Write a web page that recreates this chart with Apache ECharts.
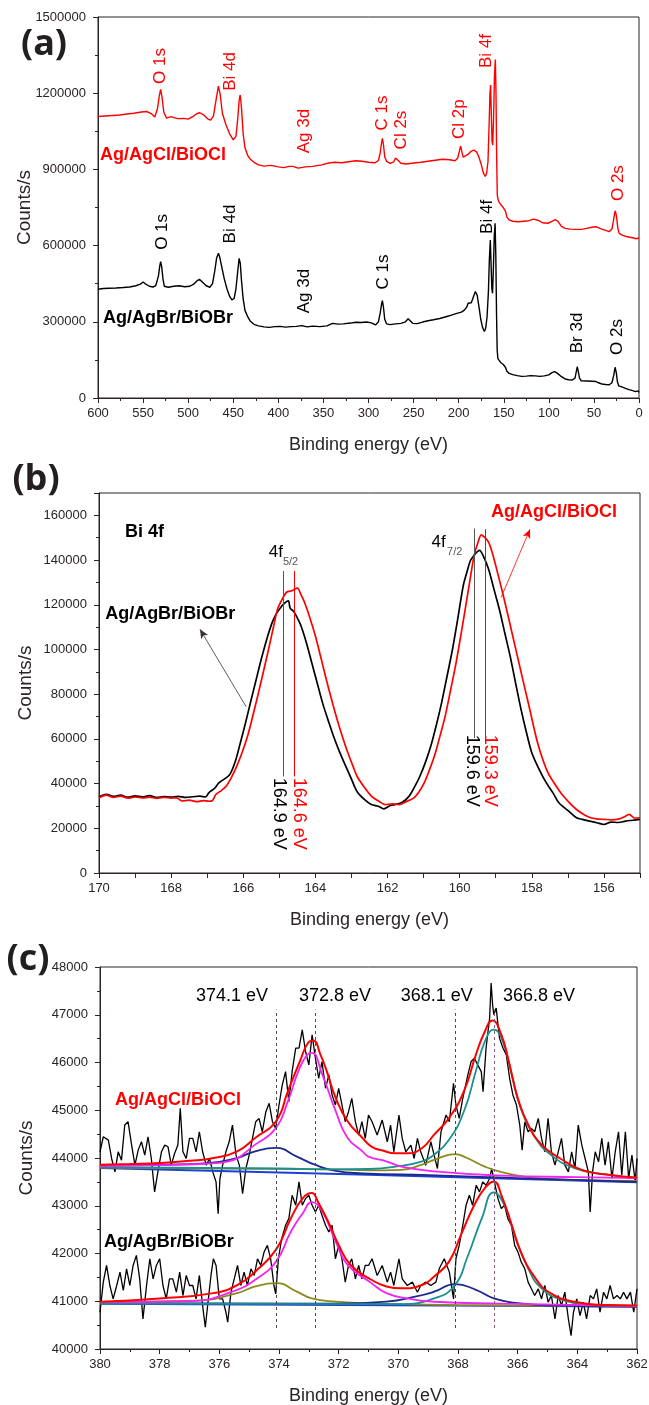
<!DOCTYPE html>
<html><head><meta charset="utf-8">
<script src="https://cdn.jsdelivr.net/npm/echarts@6/dist/echarts.min.js"></script>
<style>html,body{margin:0;padding:0;background:#fff}#c{width:649px;height:1405px}</style>
</head><body><div id="c"></div>
<script>
// ---------------- DATA ----------------
// (a) survey spectra [binding energy eV, counts/s]
const aAgCl = [[600,1108000],[592,1110000],[584,1112000],[576,1114000],[568,1118000],[560,1121000],[552,1126000],[546,1128000],[541,1120000],[537,1106000],[534,1140000],[532,1190000],[530.5,1215000],[529,1185000],[527,1125000],[524,1102000],[519,1108000],[512,1100000],[505,1101000],[500,1098000],[495,1108000],[490,1120000],[487,1123000],[483,1115000],[478,1098000],[475,1094000],[472,1110000],[469,1175000],[466.5,1228000],[464.5,1195000],[462,1120000],[458,1075000],[454,1040000],[450,1016000],[447,1030000],[445,1100000],[443.5,1170000],[442.3,1193000],[441,1150000],[439,1040000],[437,985000],[434,955000],[431,940000],[427,928000],[422,918000],[416,913000],[408,916000],[400,910000],[394,907000],[388,912000],[386,917000],[384,912000],[378,905000],[370,910000],[362,912000],[352,918000],[344,925000],[338,928000],[330,926000],[322,930000],[314,934000],[307,932000],[300,928000],[293,926000],[289,935000],[287,965000],[285.5,1005000],[284.6,1022000],[283.5,1000000],[282,950000],[280,932000],[276,924000],[272,930000],[270,945000],[268.7,950000],[267,935000],[264,924000],[258,921000],[250,925000],[242,928000],[234,932000],[226,936000],[218,940000],[210,938000],[204,934000],[201,945000],[199,975000],[197.8,992000],[196.5,970000],[195,948000],[193,945000],[190,958000],[186,972000],[183,976000],[180,968000],[177.5,948000],[175,920000],[172.5,885000],[170.5,872000],[169,885000],[167.5,930000],[166.2,1080000],[165.3,1200000],[164.6,1232000],[163.8,1120000],[163,1010000],[162.2,996000],[161.3,1100000],[160.3,1270000],[159.3,1333000],[158.6,1200000],[157.9,960000],[157.2,800000],[156.2,780000],[155,770000],[153,760000],[151,752000],[149.5,748000],[148,735000],[146.5,712000],[144,701000],[140,696000],[134,694000],[128,696000],[122,698000],[117,704000],[112,700000],[107,690000],[101,688000],[96,696000],[93,702000],[90,696000],[86,676000],[82,668000],[76,665000],[70,664000],[64,664000],[58,668000],[52,672000],[47,674000],[42,666000],[37,660000],[33,655000],[30,665000],[28.5,695000],[27,728000],[26.2,737000],[25,715000],[23.5,670000],[22,648000],[18,640000],[14,636000],[10,633000],[6,630000],[3,627000],[1.5,634000],[0,630000]];
const aAgBr = [[600,428000],[594,431000],[588,432000],[580,433000],[572,435000],[565,437000],[558,442000],[553,448000],[550,457000],[547,448000],[543,440000],[539,437000],[536,442000],[533,480000],[531.5,520000],[530.5,537000],[529.3,515000],[528,470000],[526.5,440000],[522,436000],[516,440000],[510,442000],[504,438000],[498,440000],[494,448000],[490,462000],[487.5,467000],[484,456000],[480,442000],[476,436000],[473,450000],[470.5,500000],[468.5,550000],[466.5,570000],[465,555000],[463,520000],[460,470000],[457,430000],[454,400000],[451.5,386000],[449,392000],[447,430000],[445,500000],[443.5,550000],[442.2,530000],[440.8,460000],[439,390000],[437,345000],[434,320000],[431,302000],[427,290000],[422,284000],[416,280000],[410,278000],[404,281000],[398,282000],[392,279000],[386,281000],[380,282000],[374,285000],[372,282000],[368,280000],[362,283000],[354,281000],[346,284000],[340,294000],[334,291000],[328,292000],[320,295000],[314,298000],[308,297000],[302,299000],[297,296000],[292,288000],[289,300000],[287,335000],[285.5,370000],[284.6,383000],[283.5,360000],[282,310000],[280,292000],[276,289000],[270,292000],[264,294000],[259,300000],[256,312000],[254,305000],[251,294000],[246,293000],[240,299000],[234,304000],[228,308000],[221,313000],[214,320000],[208,326000],[202,333000],[197,338000],[194,345000],[191,358000],[189.5,373000],[188,368000],[186,375000],[183.5,400000],[181.5,419000],[179.5,405000],[177.5,360000],[175.5,310000],[173.5,278000],[171.5,262000],[170,275000],[168.5,320000],[167,420000],[166,540000],[164.9,622000],[164,520000],[163.2,430000],[162.4,412000],[161.5,510000],[160.5,640000],[159.6,688000],[158.8,560000],[158,330000],[157.3,190000],[156.5,155000],[155,150000],[153.5,140000],[152,137000],[150.5,132000],[149.5,134000],[148,120000],[146.5,105000],[144,97000],[140,92000],[135,88000],[130,85000],[125,86000],[120,88000],[115,87000],[110,85000],[105,87000],[100,91000],[96.5,100000],[93.5,104000],[90,96000],[86,84000],[82,75000],[78,72000],[74,71000],[71,78000],[69.2,110000],[68.5,123000],[67.5,108000],[66,78000],[64,68000],[58,67000],[52,66000],[48,65000],[45,60000],[41,55000],[37,53000],[33,52000],[30,60000],[28,90000],[26.5,121000],[25.2,100000],[24,65000],[22.5,48000],[19,44000],[15,38000],[11,33000],[7,29000],[4,25000],[2,31000],[1,28000],[0,22000]];

// (b) Bi 4f spectra
const bAgBr = [[170,34000],[169.8,35200],[169.6,34300],[169.4,34800],[169.2,33900],[169,34500],[168.8,34100],[168.6,34600],[168.4,33800],[168.2,34200],[168,33900],[167.8,34300],[167.6,33800],[167.4,34100],[167.2,34400],[167.05,34000],[166.95,36000],[166.8,37800],[166.67,40400],[166.5,42300],[166.37,44100],[166.22,50000],[166.08,58300],[165.94,67000],[165.8,76250],[165.65,86000],[165.5,95700],[165.35,104500],[165.2,112000],[165.1,115500],[165.0,118000],[164.87,120500],[164.75,121800],[164.7,118500],[164.6,117000],[164.5,114000],[164.4,110600],[164.25,103000],[164.1,94000],[163.95,85000],[163.8,76000],[163.65,68500],[163.5,61300],[163.35,55000],[163.2,49300],[163.0,42000],[162.85,36600],[162.65,33000],[162.45,30600],[162.25,29800],[162.1,28700],[161.95,30000],[161.8,30600],[161.6,31500],[161.4,34400],[161.25,38500],[161.1,43400],[160.95,49500],[160.8,56800],[160.65,66000],[160.5,76250],[160.35,88000],[160.2,100000],[160.05,114000],[159.9,128600],[159.8,134500],[159.7,139800],[159.58,142500],[159.45,144300],[159.35,142000],[159.2,136000],[159.05,127000],[158.9,118000],[158.75,107500],[158.6,97000],[158.45,85000],[158.3,73300],[158.15,63000],[158.0,53800],[157.8,46500],[157.6,40400],[157.4,35500],[157.25,31400],[157.0,28000],[156.76,24700],[156.6,24000],[156.4,23200],[156.2,22500],[156.0,21700],[155.8,22800],[155.6,22600],[155.4,23200],[155.2,23600],[155.0,24000]];
const bAgCl = [[170,33600],[169.8,34800],[169.6,33800],[169.4,34400],[169.2,33500],[169,34000],[168.8,33600],[168.6,33900],[168.4,33400],[168.2,33800],[168,33500],[167.85,33600],[167.7,32200],[167.5,32600],[167.3,31900],[167.1,32400],[166.95,32100],[166.86,32300],[166.76,35100],[166.6,37000],[166.47,38900],[166.32,43000],[166.18,47800],[166.03,54000],[165.88,61300],[165.74,70000],[165.6,79200],[165.45,89500],[165.3,100000],[165.17,109500],[165.05,118000],[164.92,122500],[164.8,125600],[164.65,126300],[164.5,127400],[164.4,124500],[164.3,121000],[164.15,114000],[164.0,106000],[163.85,96500],[163.7,86700],[163.55,77500],[163.4,68800],[163.25,61000],[163.1,53800],[162.95,47500],[162.85,43400],[162.65,38500],[162.45,34400],[162.25,32200],[162.06,30600],[161.86,30900],[161.67,30600],[161.47,32000],[161.27,33600],[161.12,36500],[160.98,40400],[160.84,46000],[160.7,52300],[160.55,61000],[160.4,70300],[160.25,82000],[160.1,94000],[159.95,108000],[159.8,122600],[159.7,132500],[159.6,142000],[159.5,147500],[159.4,151300],[159.3,150000],[159.2,148000],[159.1,143500],[159.0,137500],[158.85,128000],[158.7,118000],[158.55,107500],[158.4,97000],[158.25,86500],[158.1,76250],[157.97,67000],[157.84,58300],[157.7,51000],[157.55,44800],[157.35,39500],[157.16,35100],[156.96,31500],[156.76,28400],[156.56,26200],[156.37,24700],[156.2,24200],[156.0,24000],[155.8,23800],[155.6,24100],[155.45,25000],[155.3,26200],[155.15,24600],[155.0,24700]];

// (c) Ag 3d raw spectra
const cAgClRaw = [[380.00,44130],[379.89,44445],[379.72,44375],[379.61,43990],[379.50,43710],[379.39,44130],[379.28,43955],[379.17,44690],[379.06,44760],[378.94,44270],[378.83,43850],[378.72,44165],[378.61,44340],[378.50,44060],[378.39,44445],[378.28,43990],[378.17,43290],[378.06,43710],[377.94,44130],[377.83,44270],[377.72,44235],[377.61,43850],[377.50,44095],[377.39,44270],[377.31,45040],[377.22,44130],[377.11,43990],[377.00,44410],[376.89,44410],[376.78,44130],[376.67,44550],[376.56,44130],[376.44,43850],[376.33,43990],[376.22,43710],[376.11,43500],[376.04,42835],[375.98,43570],[375.89,43850],[375.78,44130],[375.67,44340],[375.56,44690],[375.44,44060],[375.33,43850],[375.22,43255],[375.11,43780],[375.00,44060],[374.89,44410],[374.78,44760],[374.67,44830],[374.56,44550],[374.44,44970],[374.33,45145],[374.22,44760],[374.11,44620],[374.00,45110],[373.89,45530],[373.78,45810],[373.67,45180],[373.56,45810],[373.44,46300],[373.33,46300],[373.22,46685],[373.11,46230],[373.00,45950],[372.89,46580],[372.78,46090],[372.67,45670],[372.56,46020],[372.44,45460],[372.33,45740],[372.22,45320],[372.11,45110],[372.00,45460],[371.89,45110],[371.78,44760],[371.67,44970],[371.56,45250],[371.44,44760],[371.33,44480],[371.22,44760],[371.11,44410],[371.00,44900],[370.88,44760],[370.71,44480],[370.54,44795],[370.37,44340],[370.26,44690],[370.15,44130],[369.98,44900],[369.87,44410],[369.75,44130],[369.58,44270],[369.47,43990],[369.36,44410],[369.25,44130],[369.08,43850],[368.91,44340],[368.80,44060],[368.69,43780],[368.57,44550],[368.40,44900],[368.29,44760],[368.15,45565],[368.07,45110],[367.96,44830],[367.84,45250],[367.67,45740],[367.56,46020],[367.45,46090],[367.34,45950],[367.22,45810],[367.16,45390],[367.06,46300],[366.94,46930],[366.89,47665],[366.84,47210],[366.80,47000],[366.72,47140],[366.61,46510],[366.49,46300],[366.38,46160],[366.27,45670],[366.16,45320],[366.04,45110],[365.93,44690],[365.85,44165],[365.76,44760],[365.65,44550],[365.54,44620],[365.43,44550],[365.31,44830],[365.20,44410],[365.09,44130],[364.98,44830],[364.87,44130],[364.75,43850],[364.64,44130],[364.53,44410],[364.42,43850],[364.30,43710],[364.19,44130],[364.08,43780],[363.97,44690],[363.85,44270],[363.74,43990],[363.63,43710],[363.57,42870],[363.49,43710],[363.40,44130],[363.29,43920],[363.18,44410],[363.07,43850],[362.96,44340],[362.84,43570],[362.73,44130],[362.62,44550],[362.51,43640],[362.39,44550],[362.28,43570],[362.17,44060],[362.06,43500],[362.00,43990]];
const cAgBrRaw = [[380.00,40770],[379.89,41400],[379.78,41750],[379.67,41330],[379.56,41050],[379.44,41330],[379.33,41610],[379.22,41225],[379.11,41680],[379.00,41330],[378.89,41750],[378.78,41960],[378.67,41470],[378.56,40630],[378.44,41330],[378.33,41890],[378.22,41470],[378.11,41750],[378.00,41890],[377.89,41330],[377.78,41050],[377.67,41470],[377.56,41470],[377.44,41190],[377.33,41610],[377.22,41120],[377.11,41540],[377.00,41330],[376.89,41330],[376.78,41050],[376.67,41540],[376.56,40910],[376.47,40455],[376.38,40980],[376.28,41540],[376.20,41890],[376.11,41750],[376.00,41050],[375.89,41050],[375.78,40770],[375.72,40560],[375.61,41190],[375.50,41470],[375.39,41750],[375.28,41330],[375.17,41610],[375.06,41330],[374.94,41680],[374.83,41540],[374.72,41890],[374.61,41750],[374.50,42030],[374.39,42170],[374.28,41890],[374.17,41330],[374.11,41155],[374.02,41890],[373.91,42310],[373.78,42590],[373.67,42730],[373.56,43220],[373.44,43010],[373.33,43500],[373.22,43010],[373.11,43150],[373.00,43220],[372.89,43010],[372.78,42870],[372.67,43010],[372.56,42800],[372.44,42590],[372.33,42450],[372.22,42590],[372.11,41890],[372.00,42170],[371.89,41890],[371.78,41400],[371.67,41750],[371.56,41890],[371.44,41470],[371.33,41750],[371.22,41470],[371.11,41750],[371.00,41750],[370.88,41890],[370.71,41540],[370.54,41750],[370.37,41400],[370.26,41610],[370.15,41330],[369.98,41890],[369.87,41470],[369.70,41330],[369.53,41400],[369.36,41190],[369.25,41330],[369.08,41400],[368.91,41330],[368.74,41400],[368.63,41680],[368.46,41890],[368.29,41610],[368.15,41050],[368.07,41890],[367.96,42170],[367.84,42590],[367.73,43010],[367.62,43220],[367.51,43010],[367.39,43430],[367.28,43290],[367.17,43500],[367.06,43430],[366.94,43570],[366.87,43780],[366.78,43500],[366.66,43150],[366.55,42940],[366.44,43010],[366.33,42730],[366.21,42590],[366.10,42170],[365.99,42030],[365.88,41820],[365.76,41680],[365.65,41400],[365.54,41260],[365.43,41120],[365.31,41260],[365.20,41050],[365.09,41330],[364.98,40980],[364.87,41120],[364.75,40630],[364.64,41120],[364.53,40910],[364.42,41190],[364.30,40630],[364.21,40280],[364.13,40770],[364.02,41050],[363.91,40700],[363.80,40980],[363.69,40630],[363.57,41120],[363.46,41050],[363.35,41260],[363.24,40770],[363.12,41190],[363.01,41050],[362.90,41330],[362.79,41050],[362.67,41120],[362.56,41050],[362.45,41190],[362.34,41050],[362.22,41190],[362.11,40770],[362.00,41260]];

// (c) fitted curves
const cAgClEnvelope = [[380,43860],[379,43875],[378,43895],[377,43940],[376.2,44000],[375.4,44140],[374.8,44420],[374.1,44770],[373.7,45400],[373.3,46025],[373.0,46430],[372.85,46460],[372.6,46150],[372.4,45820],[372.1,45260],[371.7,44770],[371.2,44420],[370.9,44240],[370.5,44150],[370.1,44100],[369.7,44100],[369.2,44210],[368.8,44490],[368.3,44840],[367.8,45400],[367.4,46165],[367.1,46650],[366.85,46880],[366.55,46585],[366.3,46025],[366.0,45260],[365.65,44700],[365.2,44280],[364.6,44000],[363.85,43750],[362.95,43650],[362,43590]];
const cAgClAg3d32 = [[380,43830],[378,43850],[376.5,43880],[375.7,43930],[374.8,44280],[374.1,44630],[373.7,45190],[373.35,45820],[373.05,46165],[372.9,46200],[372.55,45750],[372.1,44980],[371.7,44420],[371.2,44140],[371.0,44030],[370.4,43930],[369.9,43820],[368.8,43720],[366.5,43630],[364,43600],[362,43580]];
const cAgClAg3d52 = [[380,43810],[374,43780],[372,43760],[371,43770],[370.1,43820],[369.2,43930],[368.8,44070],[368.3,44380],[367.8,44980],[367.4,45820],[367.1,46440],[366.8,46690],[366.5,46440],[366.2,45750],[365.9,45050],[365.4,44420],[364.9,44070],[364.1,43790],[363,43650],[362,43580]];
const cAgClAg0_32 = [[380,43840],[377,43870],[376,43920],[375.4,44000],[374.8,44140],[374.1,44210],[373.4,44030],[372.8,43860],[372.1,43730],[371.2,43680],[369,43640],[366,43580],[362,43500]];
const cAgClAg0_52 = [[380,43800],[376,43780],[372,43760],[370.5,43740],[369.9,43750],[369.2,43860],[368.8,43960],[368.1,44080],[367.7,44000],[367.1,43820],[366.5,43700],[365.4,43580],[364,43540],[362,43520]];
const cAgClBase = [[380,43790],[371,43650],[362,43490]];
const cAgBrEnvelope = [[380,40990],[378,41060],[376.2,41170],[375.4,41340],[374.8,41620],[374.1,42080],[373.6,42740],[373.2,43160],[372.9,43265],[372.7,43090],[372.3,42600],[372.0,42180],[371.6,41760],[370.9,41450],[370.4,41310],[369.9,41270],[369.2,41340],[368.8,41520],[368.3,41830],[367.9,42390],[367.45,43020],[367.1,43370],[366.8,43510],[366.55,43230],[366.2,42600],[365.9,42040],[365.4,41480],[364.9,41170],[364.1,40990],[363,40920],[362,40910]];
const cAgBrAg3d32 = [[380,40980],[377,41000],[375.4,41240],[374.8,41450],[374.1,41830],[373.6,42460],[373.2,42845],[372.9,43075],[372.55,42880],[372.1,42250],[371.7,41760],[370.9,41380],[370.4,41170],[369.7,41060],[368.8,40990],[366.5,40950],[362,40900]];
const cAgBrAg3d52 = [[380,40950],[370,40940],[368.8,41060],[368.1,41340],[367.7,41900],[367.2,42740],[366.8,43280],[366.45,43020],[366.1,42390],[365.65,41690],[365.2,41270],[364.5,41030],[363.4,40920],[362,40900]];
const cAgBrAg0_32 = [[380,40980],[376.8,41010],[375.4,41170],[374.8,41310],[374.1,41380],[373.4,41200],[372.9,41060],[372.1,40990],[371.2,40960],[368,40920],[362,40890]];
const cAgBrAg0_52 = [[380,40960],[372,40950],[370.4,40990],[369.4,41100],[368.8,41200],[368.1,41360],[367.4,41240],[366.8,41060],[366.0,40960],[364.9,40910],[362,40890]];
const cAgBrBase = [[380,40950],[362,40890]];

// peak positions (eV)
const bPeaksAgBr = [164.9, 159.6];
const bPeaksAgCl = [164.6, 159.3];
const cPeaks = [374.1, 372.8, 368.1, 366.8];

// ---------------- CHART ----------------
const AX = '#2b2326';
const FONT = '"Liberation Sans", Arial, sans-serif';
const chart = echarts.init(document.getElementById('c'), null, {renderer: 'canvas'});
const plain = function (v) { return String(Math.round(v)); };

function xAx(grid, min, max, interval, extra) {
  return Object.assign({
    type: 'value', gridIndex: grid, min: min, max: max, interval: interval, inverse: true, position: 'bottom',
    name: 'Binding energy (eV)', nameLocation: 'middle', nameGap: 38, nameMoveOverlap: false,
    nameTextStyle: {fontSize: 18, color: AX, fontFamily: FONT},
    axisLine: {show: true, onZero: false, lineStyle: {color: AX, width: 1}},
    axisTick: {show: true, inside: false, length: 5, lineStyle: {color: AX}},
    minorTick: {show: true, splitNumber: 2, length: 3, lineStyle: {color: AX}},
    splitLine: {show: false}, minorSplitLine: {show: false},
    axisLabel: {color: AX, fontSize: 13, fontFamily: FONT, margin: 9, formatter: plain}
  }, extra || {});
}
function yAx(grid, min, max, interval, extra) {
  return Object.assign({
    type: 'value', gridIndex: grid, min: min, max: max, interval: interval,
    name: 'Counts/s', nameLocation: 'middle', nameGap: 64, nameMoveOverlap: false,
    nameTextStyle: {fontSize: 19, color: AX, fontFamily: FONT},
    axisLine: {show: true, onZero: false, lineStyle: {color: AX, width: 1}},
    axisTick: {show: true, inside: false, length: 5, lineStyle: {color: AX}},
    minorTick: {show: true, splitNumber: 2, length: 3, lineStyle: {color: AX}},
    splitLine: {show: false}, minorSplitLine: {show: false},
    axisLabel: {color: AX, fontSize: 13, fontFamily: FONT, margin: 12, formatter: plain}
  }, extra || {});
}
function line(xi, data, color, width, smooth, extra) {
  return Object.assign({
    type: 'line', xAxisIndex: xi, yAxisIndex: xi, data: data, symbol: 'none', showSymbol: false,
    smooth: smooth, lineStyle: {color: color, width: width}, silent: true, animation: false, z: 3
  }, extra || {});
}
function vseg(e, v0, v1, color, dashed) {
  return [{coord: [e, v0], symbol: 'none', lineStyle: {color: color, width: 1, type: dashed ? [3, 3] : 'solid'}},
          {coord: [e, v1], symbol: 'none'}];
}

const gridStyle = {show: true, borderColor: AX, borderWidth: 1, backgroundColor: 'transparent', containLabel: false, outerBoundsMode: 'none'};

const option = {
  animation: false,
  backgroundColor: '#fff',
  grid: [
    Object.assign({left: 98, top: 17, width: 541, height: 381}, gridStyle),
    Object.assign({left: 99, top: 493, width: 541, height: 380}, gridStyle),
    Object.assign({left: 100, top: 967, width: 537, height: 382}, gridStyle)
  ],
  xAxis: [
    xAx(0, 0, 600, 50),
    xAx(1, 155, 170, 1, {minorTick: {show: false}, axisLabel: {color: AX, fontSize: 13, fontFamily: FONT, margin: 9,
      formatter: function (v) { return Math.round(v) % 2 === 0 ? String(Math.round(v)) : ''; }}}),
    xAx(2, 362, 380, 2)
  ],
  yAxis: [
    yAx(0, 0, 1500000, 300000),
    yAx(1, 0, 170000, 20000, {axisLabel: {color: AX, fontSize: 13, fontFamily: FONT, margin: 12, showMaxLabel: false, formatter: plain}}),
    yAx(2, 40000, 48000, 1000)
  ],
  series: [
    line(0, aAgCl, '#ff0000', 1.4, false),
    line(0, aAgBr, '#000000', 1.4, false),
    line(1, bAgBr, '#000000', 1.7, 0.3, {markLine: {silent: true, animation: false, symbol: ['none', 'none'], label: {show: false},
      data: [vseg(bPeaksAgBr[0], 43200, 135100, '#555555'), vseg(bPeaksAgBr[1], 60400, 154100, '#555555'),
        [{coord: [165.92, 74400], symbol: 'none', lineStyle: {color: '#3a3035', width: 0.8, type: 'solid'}},
         {coord: [167.2, 109000], symbol: 'arrow', symbolSize: [6, 9]}]]}}),
    line(1, bAgCl, '#ff0000', 1.7, 0.3, {markLine: {silent: true, animation: false, symbol: ['none', 'none'], label: {show: false},
      data: [vseg(bPeaksAgCl[0], 43200, 135100, '#ff0000'), vseg(bPeaksAgCl[1], 60400, 153800, '#ff0000'),
        [{coord: [158.85, 123300], symbol: 'none', lineStyle: {color: '#ff0000', width: 0.8, type: 'solid'}},
         {coord: [158.05, 153800], symbol: 'arrow', symbolSize: [6, 9]}]]}}),
    line(2, cAgClRaw, '#000000', 1.3, false, {z: 2, markLine: {silent: true, animation: false, symbol: ['none', 'none'], label: {show: false},
      data: [vseg(cPeaks[0], 40440, 47110, '#4a4a4a', true), vseg(cPeaks[1], 40440, 47110, '#4a4a4a', true),
             vseg(cPeaks[2], 40440, 47110, '#4a4a4a', true), vseg(cPeaks[3], 40440, 47110, '#8a5a78', true)]}}),
    line(2, cAgBrRaw, '#000000', 1.3, false, {z: 2}),
    line(2, cAgClBase, '#1f3fd6', 2, false),
    line(2, cAgBrBase, '#1f3fd6', 2, false),
    line(2, cAgClAg0_52, '#8c8a1e', 1.8, true),
    line(2, cAgClAg0_32, '#1c2a8c', 1.8, true),
    line(2, cAgClAg3d52, '#1a8f8f', 1.8, true),
    line(2, cAgClAg3d32, '#f224f2', 1.8, true),
    line(2, cAgClEnvelope, '#ff0000', 2, true),
    line(2, cAgBrAg0_32, '#8c8a1e', 1.8, true),
    line(2, cAgBrAg0_52, '#1c2a8c', 1.8, true),
    line(2, cAgBrAg3d52, '#1a8f8f', 1.8, true),
    line(2, cAgBrAg3d32, '#f224f2', 1.8, true),
    line(2, cAgBrEnvelope, '#ff0000', 2, true)
  ]
};
chart.setOption(option);

// ---------------- ANNOTATIONS ----------------
const g = [];
function T(grid, e, v, s, o) {
  o = o || {};
  const p = chart.convertToPixel({gridIndex: grid}, [e, v]);
  g.push({type: 'text', x: p[0], y: p[1], rotation: o.rot || 0, silent: true, z: 10,
    style: {text: s, fill: o.color || '#000', fontSize: o.size || 17, fontWeight: o.bold ? 'bold' : 'normal',
      fontFamily: o.family || FONT, align: o.align || 'center', verticalAlign: o.va || 'middle'}});
}
const UP = Math.PI / 2, DOWN = -Math.PI / 2;
// (a)
[['O 1s', 530.7, 1307000], ['Bi 4d', 453.6, 1286000], ['Ag 3d', 371.5, 1051000], ['C 1s', 285, 1122000],
 ['Cl 2s', 264, 1055000], ['Cl 2p', 199.6, 1098000], ['Bi 4f', 169.7, 1366000], ['O 2s', 23.3, 846000]]
  .forEach(function (l) { T(0, l[1], l[2], l[0], {rot: UP, color: '#ff0000'}); });
[['O 1s', 529, 654000], ['Bi 4d', 453.6, 685000], ['Ag 3d', 371.5, 421000], ['C 1s', 284, 496000],
 ['Bi 4f', 168.6, 713000], ['Br 3d', 68.8, 256000], ['O 2s', 24.4, 240000]]
  .forEach(function (l) { T(0, l[1], l[2], l[0], {rot: UP, color: '#000'}); });
T(0, 597.8, 956700, 'Ag/AgCl/BiOCl', {bold: true, size: 18, color: '#ff0000', align: 'left'});
T(0, 594.5, 315000, 'Ag/AgBr/BiOBr', {bold: true, size: 18, color: '#000', align: 'left'});
// (b)
T(1, 169.28, 152500, 'Bi 4f', {bold: true, size: 18, align: 'left'});
T(1, 169.83, 115700, 'Ag/AgBr/BiOBr', {bold: true, size: 18, align: 'left'});
T(1, 159.13, 161600, 'Ag/AgCl/BiOCl', {bold: true, size: 18, color: '#ff0000', align: 'left'});
T(1, 165.29, 143500, '4f', {size: 17, align: 'left'});
T(1, 164.9, 139000, '5/2', {size: 11, color: '#555', align: 'left'});
T(1, 160.78, 148000, '4f', {size: 17, align: 'left'});
T(1, 160.35, 143500, '7/2', {size: 11, color: '#555', align: 'left'});
T(1, 165.01, 42600, '164.9 eV', {rot: DOWN, size: 18, align: 'left'});
T(1, 164.46, 42600, '164.6 eV', {rot: DOWN, size: 18, align: 'left', color: '#ff0000'});
T(1, 159.66, 61900, '159.6 eV', {rot: DOWN, size: 18, align: 'left'});
T(1, 159.17, 61900, '159.3 eV', {rot: DOWN, size: 18, align: 'left', color: '#ff0000'});
// (c)
T(2, 376.78, 47385, '374.1 eV', {size: 18, align: 'left'});
T(2, 373.33, 47385, '372.8 eV', {size: 18, align: 'left'});
T(2, 369.92, 47385, '368.1 eV', {size: 18, align: 'left'});
T(2, 366.49, 47385, '366.8 eV', {size: 18, align: 'left'});
T(2, 379.5, 45220, 'Ag/AgCl/BiOCl', {bold: true, size: 18, color: '#ff0000', align: 'left'});
T(2, 379.87, 42243, 'Ag/AgBr/BiOBr', {bold: true, size: 18, align: 'left'});
// panel letters
[['(a)', 44, 45], ['(b)', 36, 480], ['(c)', 28, 960]].forEach(function (l) {
  g.push({type: 'text', x: l[1], y: l[2], silent: true, z: 10,
    style: {text: l[0], fill: '#231f20', fontSize: 36, fontWeight: 'bold', fontFamily: '"Open Sans", "Noto Sans", sans-serif', align: 'center', verticalAlign: 'middle'}});
});
chart.setOption({graphic: g});
</script></body></html>
